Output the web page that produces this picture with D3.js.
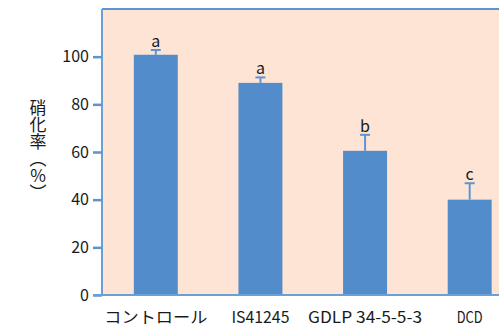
<!DOCTYPE html>
<html>
<head>
<meta charset="utf-8">
<script src="https://cdn.jsdelivr.net/npm/d3@7"></script>
<style>
  html, body { margin: 0; padding: 0; background: #ffffff; }
  svg { display: block; }
  text { font-family: "Noto Sans CJK JP", "Noto Sans", sans-serif; fill: #1a1a1a; }
</style>
</head>
<body>
<svg id="chart" width="499" height="329"></svg>
<script>
// Nitrification rate by treatment
const categories = ["コントロール", "IS41245", "GDLP 34-5-5-3", "DCD"];
const rates = [100.8, 89.0, 60.5, 40.0];
const errors = [2.0, 2.3, 6.7, 6.9];
const groups = ["a", "a", "b", "c"];
const yTicks = [0, 20, 40, 60, 80, 100];
const yTitle = "硝化率（%）";

const svg = d3.select("#chart");
const W = 499;
const plotLeft = 102, plotTop = 9, plotBottom = 295;

const y = d3.scaleLinear().domain([0, 120]).range([plotBottom, plotTop]);
const x = d3.scaleBand().domain(categories).range([103.5, 522])
  .paddingInner(0.58).paddingOuter(0.29);

// plot background
svg.append("rect")
  .attr("x", plotLeft).attr("y", plotTop)
  .attr("width", W - plotLeft).attr("height", plotBottom - plotTop)
  .attr("fill", "#fde4d4");

// frame: top and left edges
svg.append("line")
  .attr("x1", plotLeft).attr("x2", W)
  .attr("y1", plotTop).attr("y2", plotTop)
  .attr("stroke", "#5b93d3").attr("stroke-width", 2);
svg.append("line")
  .attr("x1", plotLeft).attr("x2", plotLeft)
  .attr("y1", plotTop).attr("y2", plotBottom)
  .attr("stroke", "#6a9fd8").attr("stroke-width", 2);

// bars
svg.append("g").selectAll("rect")
  .data(categories)
  .join("rect")
  .attr("x", d => x(d))
  .attr("width", x.bandwidth())
  .attr("y", (d, i) => y(rates[i]))
  .attr("height", (d, i) => y(0) - y(rates[i]))
  .attr("fill", "#528ccb");

// error bars (upper only)
const eb = svg.append("g").attr("stroke", "#5d95d4").attr("stroke-width", 2);
categories.forEach((c, i) => {
  const cx = x(c) + x.bandwidth() / 2;
  eb.append("line")
    .attr("x1", cx).attr("x2", cx)
    .attr("y1", y(rates[i])).attr("y2", y(rates[i] + errors[i]));
  eb.append("line")
    .attr("x1", cx - 5).attr("x2", cx + 5)
    .attr("y1", y(rates[i] + errors[i])).attr("y2", y(rates[i] + errors[i]));
});

// significance letters
svg.append("g").selectAll("text")
  .data(categories)
  .join("text")
  .attr("x", d => x(d) + x.bandwidth() / 2)
  .attr("y", (d, i) => y(rates[i] + errors[i]) - 3)
  .attr("text-anchor", "middle")
  .attr("font-size", 16)
  .text((d, i) => groups[i]);

// y axis
const yAxis = d3.axisLeft(y).tickValues(yTicks).tickSize(9).tickPadding(4);
const gy = svg.append("g")
  .attr("transform", `translate(${plotLeft},0)`)
  .call(yAxis);
gy.select(".domain").remove();
gy.selectAll(".tick line").attr("stroke", "#5b93d3").attr("stroke-width", 2.5);
gy.selectAll(".tick text")
  .attr("font-size", 16)
  .attr("font-family", "'Noto Sans CJK JP', sans-serif")
  .attr("fill", "#1a1a1a");

// baseline
svg.append("line")
  .attr("x1", plotLeft - 9).attr("x2", W)
  .attr("y1", plotBottom).attr("y2", plotBottom)
  .attr("stroke", "#6a9fd8").attr("stroke-width", 2);

// category labels
const labelWidths = [103, 58, 114, 26];
svg.append("g").selectAll("text")
  .data(categories)
  .join("text")
  .attr("x", d => x(d) + x.bandwidth() / 2)
  .attr("y", 323)
  .attr("text-anchor", "middle")
  .attr("font-size", 16)
  .attr("textLength", (d, i) => labelWidths[i])
  .attr("lengthAdjust", "spacingAndGlyphs")
  .text(d => d);

// y-axis title, written vertically
svg.append("text")
  .attr("x", 38)
  .attr("y", 99)
  .attr("font-size", 17)
  .style("writing-mode", "vertical-rl")
  .style("text-orientation", "upright")
  .text(yTitle);
</script>
</body>
</html>
